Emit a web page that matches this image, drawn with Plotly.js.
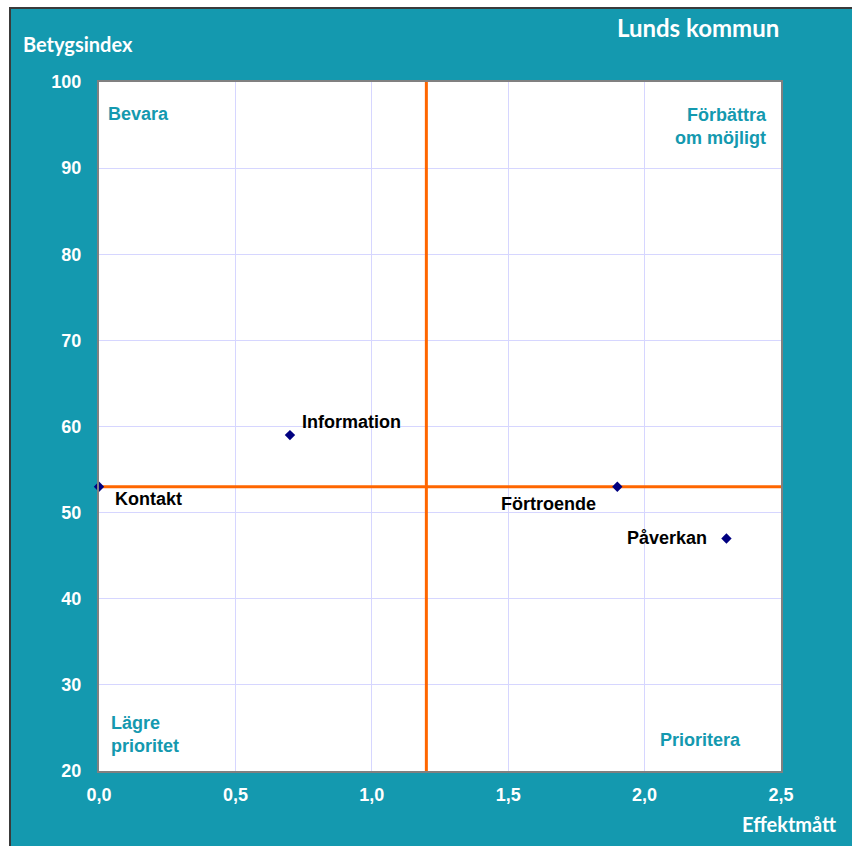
<!DOCTYPE html>
<html>
<head>
<meta charset="utf-8">
<script src="https://cdn.plot.ly/plotly-3.0.1.min.js"></script>
<style>
html,body{margin:0;padding:0;background:#ffffff;width:852px;height:846px;overflow:hidden;}
#frame{position:absolute;left:9px;top:7px;border-left:2px solid #3a3a3a;border-top:2px solid #3a3a3a;width:843px;height:839px;background:#1499AF;}
#chart{width:841px;height:837px;}
</style>
</head>
<body>
<div id="frame"><div id="chart"></div></div>
<script>
// Data
var names = ["Kontakt", "Information", "Förtroende", "Påverkan"];
var effekt = [0.0, 0.7, 1.9, 2.3];
var betyg = [53, 59, 53, 47];
var hLineY = 53;      // horizontal reference (betygsindex)
var vLineX = 1.2;     // vertical reference (effektmått)
var xRange = [0, 2.5];
var yRange = [20, 100];
var quadrants = ["Bevara", "Förbättra<br>om möjligt", "Lägre<br>prioritet", "Prioritera"];

var teal = "#1499AF";
var orange = "#FF6600";

var traces = [
  {x: xRange, y: [hLineY, hLineY], mode: "lines", line: {color: orange, width: 3}, hoverinfo: "skip", cliponaxis: false, showlegend: false},
  {x: [vLineX, vLineX], y: yRange, mode: "lines", line: {color: orange, width: 3}, hoverinfo: "skip", cliponaxis: false, showlegend: false},
  {x: effekt, y: betyg, text: names, mode: "markers", marker: {symbol: "diamond", color: "#000080", size: 8}, cliponaxis: false, showlegend: false}
];

var labelCfg = [
  {xanchor: "left", xshift: 14, yshift: -12},
  {xanchor: "left", xshift: 10, yshift: 13},
  {xanchor: "right", xshift: -19, yshift: -17},
  {xanchor: "right", xshift: -17, yshift: 0}
];

var annotations = names.map(function(n, i){
  return {x: effekt[i], y: betyg[i], xref: "x", yref: "y", text: n, showarrow: false,
    xanchor: labelCfg[i].xanchor, yanchor: "middle", xshift: labelCfg[i].xshift, yshift: labelCfg[i].yshift,
    font: {family: "Liberation Sans", size: 18, color: "#000000", weight: 700}};
});

var qFont = {family: "Liberation Sans", size: 18, color: teal, weight: 700};
annotations.push({x: 0.010, y: 0.954, xref: "paper", yref: "paper", text: quadrants[0], showarrow: false, xanchor: "left", yanchor: "middle", align: "left", font: qFont});
annotations.push({x: 0.983, y: 0.936, xref: "paper", yref: "paper", text: quadrants[1], showarrow: false, xanchor: "right", yanchor: "middle", align: "right", font: qFont});
annotations.push({x: 0.0147, y: 0.053, xref: "paper", yref: "paper", text: quadrants[2], showarrow: false, xanchor: "left", yanchor: "middle", align: "left", font: qFont});
annotations.push({x: 0.882, y: 0.045, xref: "paper", yref: "paper", text: quadrants[3], showarrow: false, xanchor: "center", yanchor: "middle", align: "center", font: qFont});

var axFont = {family: "Lato", size: 20, color: "#ffffff", weight: 700};
annotations.push({x: -0.1144, y: 1.055, xref: "paper", yref: "paper", text: "Betygsindex", showarrow: false, xanchor: "left", yanchor: "middle", font: axFont});
annotations.push({x: 1.084, y: -0.077, xref: "paper", yref: "paper", text: "Effektmått", showarrow: false, xanchor: "right", yanchor: "middle", font: axFont});

var tickFont = {family: "Liberation Sans", size: 18, color: "#ffffff", weight: 700};

var layout = {
  width: 841, height: 837,
  paper_bgcolor: teal,
  plot_bgcolor: "#ffffff",
  margin: {l: 88, r: 71, t: 73, b: 75},
  separators: ", ",
  title: {text: "Lunds kommun", x: 0.817, y: 0.977, xref: "container", yref: "container", xanchor: "center", yanchor: "middle",
    font: {family: "Lato", size: 24, color: "#ffffff", weight: 700}},
  xaxis: {range: xRange, dtick: 0.5, tick0: 0, tickformat: ".1f", showgrid: true, gridcolor: "#d6d6ff", gridwidth: 1,
    zeroline: false, showline: true, linecolor: "#808080", linewidth: 2, mirror: true, ticks: "", ticklabelstandoff: 6,
    tickfont: tickFont, fixedrange: true},
  yaxis: {range: yRange, dtick: 10, tick0: 20, showgrid: true, gridcolor: "#d6d6ff", gridwidth: 1,
    zeroline: false, showline: true, linecolor: "#808080", linewidth: 2, mirror: true, ticks: "", ticklabelstandoff: 12,
    tickfont: tickFont, fixedrange: true},
  annotations: annotations,
  hovermode: false
};

Plotly.newPlot("chart", traces, layout, {displayModeBar: false, staticPlot: true});
</script>
</body>
</html>
